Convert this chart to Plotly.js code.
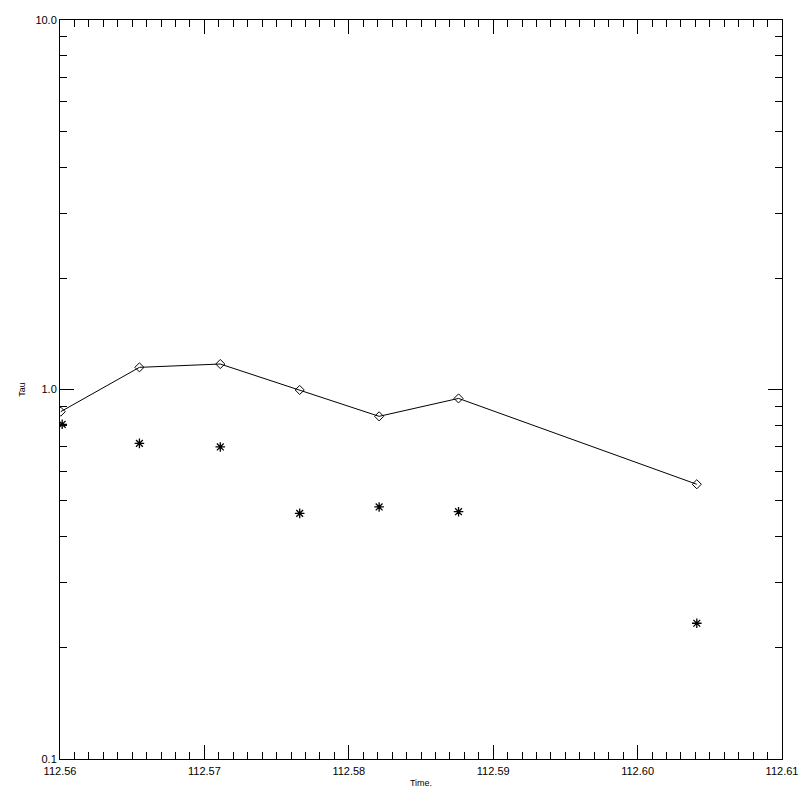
<!DOCTYPE html>
<html>
<head>
<meta charset="utf-8">
<script src="https://cdn.plot.ly/plotly-3.0.1.min.js"></script>
<style>html,body{margin:0;padding:0;background:#fff;}#chart{width:800px;height:800px;}</style>
</head>
<body>
<div id="chart"></div>
<script>
// Data
const timeLine = [112.56005, 112.5655, 112.5711, 112.5766, 112.5821, 112.5876, 112.6041];
const tauLine  = [0.871, 1.148, 1.172, 0.997, 0.846, 0.946, 0.554];
const timeStar = [112.56015, 112.5655, 112.5711, 112.5766, 112.5821, 112.5876, 112.6041];
const tauStar  = [0.805, 0.715, 0.699, 0.462, 0.481, 0.467, 0.233];

const yMajorVals = [0.1, 1, 10];
const yMajorText = ['0.1', '1.0', '10.0'];
const yMinorVals = [0.2,0.3,0.4,0.5,0.6,0.7,0.8,0.9,2,3,4,5,6,7,8,9];

const traces = [
  {
    x: timeLine, y: tauLine, type: 'scatter', mode: 'lines+markers',
    line: {color: '#000', width: 1},
    marker: {symbol: 'diamond-open', size: 7, color: '#000', line: {width: 1, color: '#000'}},
    showlegend: false, hoverinfo: 'skip'
  },
  {
    x: timeStar, y: tauStar, type: 'scatter', mode: 'markers',
    marker: {symbol: 'asterisk-open', size: 8, color: '#000', line: {width: 1.3, color: '#000'}},
    showlegend: false, hoverinfo: 'skip'
  }
];

const fontFam = 'Liberation Sans, Arial, sans-serif';
const layout = {
  width: 800, height: 800,
  margin: {l: 60, r: 18, t: 20, b: 41, pad: 0},
  paper_bgcolor: '#fff', plot_bgcolor: '#fff',
  font: {family: fontFam, size: 11, color: '#000'},
  xaxis: {
    range: [112.56, 112.61], tickmode: 'linear', tick0: 112.56, dtick: 0.01, tickformat: '.2f',
    ticks: 'inside', ticklen: 14, tickwidth: 1, tickcolor: '#000', ticklabelstandoff: 2,
    minor: {dtick: 0.001, tick0: 112.56, ticks: 'inside', ticklen: 7, tickwidth: 1, tickcolor: '#000', showgrid: false},
    showline: true, linecolor: '#000', linewidth: 1, mirror: 'allticks',
    showgrid: false, zeroline: false,
    tickfont: {family: fontFam, size: 11, color: '#000'},
    title: {text: 'Time.', font: {family: fontFam, size: 9, color: '#000'}, standoff: 3}
  },
  yaxis: {
    type: 'log', range: [-1, 1], tickmode: 'array', tickvals: yMajorVals, ticktext: yMajorText,
    ticks: 'inside', ticklen: 14, tickwidth: 1, tickcolor: '#000',
    minor: {tickmode: 'array', tickvals: yMinorVals, ticks: 'inside', ticklen: 7, tickwidth: 1, tickcolor: '#000', showgrid: false},
    showline: true, linecolor: '#000', linewidth: 1, mirror: 'allticks',
    showgrid: false, zeroline: false,
    tickfont: {family: fontFam, size: 11, color: '#000'},
    title: {text: 'Tau', font: {family: fontFam, size: 9, color: '#000'}, standoff: 8}
  }
};

Plotly.newPlot('chart', traces, layout, {staticPlot: true, displayModeBar: false});
</script>
</body>
</html>
